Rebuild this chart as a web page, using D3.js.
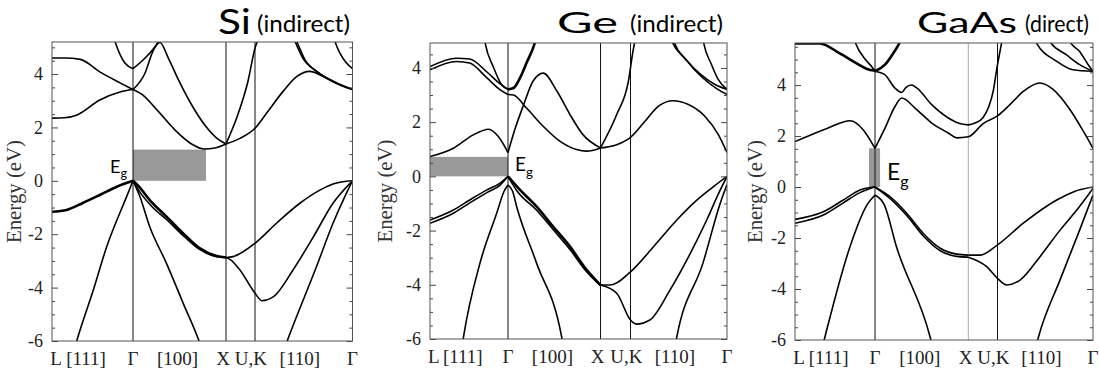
<!DOCTYPE html>
<html>
<head>
<meta charset="utf-8">
<script src="https://cdn.jsdelivr.net/npm/d3@7/dist/d3.min.js"></script>
<style>
	body { margin: 0; background: #fff; }
</style>
</head>
<body>
<svg id="chart" width="1099" height="372"></svg>
<script>
// path coordinate: L = 0, Γ = 1, X = 2, U,K = 3, Γ = 4
const kPoints = [0, 1, 2, 3, 4];
const kLabels = ['L', '[111]', 'Γ', '[100]', 'X', 'U,K', '[110]', 'Γ'];
const kLabelPos = [0.05, 0.42, 1, 1.48, 1.97, 2.86, 3.46, 4];
const eTicks = [-6, -4, -2, 0, 2, 4];
const eMin = -6;

// bands as [k, energy in eV]
const siCond = [
	[[0, 4.6], [0.16, 4.6], [0.35, 4.55], [0.59, 4.08], [0.84, 3.67], [1, 3.42]],
	[[0, 2.35], [0.15, 2.36], [0.31, 2.47], [0.59, 3.03], [0.84, 3.33], [1, 3.42]],
	[[0.74, 5.6], [0.78, 5.2], [0.9, 4.41], [1, 4.2]],
	[[1, 4.2], [1.13, 4.6], [1.24, 5.04], [1.32, 5.5]],
	[[1, 3.42], [1.13, 4.04], [1.215, 4.86], [1.29, 5.18], [1.38, 4.6], [1.48, 3.85], [1.63, 2.85], [1.78, 2.05], [1.9, 1.6], [2, 1.38]],
	[[1, 3.42], [1.1, 3.23], [1.27, 2.61], [1.45, 1.91], [1.63, 1.38], [1.77, 1.19], [1.88, 1.23], [2, 1.38]],
	[[2, 1.38], [2.41, 2.48], [2.76, 3.74], [3.0, 4.97], [3.06, 5.5]],
	[[2, 1.38], [2.5, 1.6], [3, 1.97], [3.12, 2.54], [3.29, 3.36], [3.43, 3.91], [3.56, 4.1], [3.7, 3.91], [3.84, 3.66], [4, 3.42]],
	[[3.38, 5.5], [3.41, 5.23], [3.49, 4.6], [3.63, 4.11], [3.8, 3.73], [4, 3.42]],
	[[3.39, 5.5], [3.43, 5.2], [3.51, 4.55], [3.65, 4.05], [3.82, 3.67], [4, 3.42]],
	[[3.8, 5.5], [3.82, 5.23], [3.87, 4.79], [3.93, 4.45], [4, 4.2]]
];
const siCondDeg = [];
const siVal = [
	[[0.25, -6.6], [0.305, -6], [0.51, -4.09], [0.675, -2.47], [0.92, -0.6], [1, 0]],
	[[1, 0], [1.08, -0.45], [1.2, -0.95], [1.36, -1.45], [1.54, -2.05], [1.72, -2.58], [1.9, -2.84], [2, -2.87]],
	[[1, 0], [1.07, -0.55], [1.18, -1.72], [1.36, -3.09], [1.54, -4.59], [1.71, -6], [1.75, -6.4]],
	[[2, -2.87], [2.24, -2.84], [3, -2.34], [3.22, -1.59], [3.46, -0.84], [3.67, -0.34], [3.8, -0.12], [4, 0]],
	[[2, -2.87], [2.15, -2.95], [2.48, -3.34], [3, -4.21], [3.07, -4.49], [3.19, -4.34], [3.39, -3.34], [3.6, -2.09], [3.8, -0.84], [4, 0]],
	[[3.29, -6.4], [3.33, -6], [3.63, -3.22], [3.8, -1.59], [3.92, -0.6], [4, 0]]
];
const siValDeg = [
	[[0, -1.16], [0.18, -1.09], [0.38, -0.83], [0.59, -0.53], [0.8, -0.22], [1, 0]],
	[[1, 0], [1.06, -0.2], [1.18, -0.72], [1.36, -1.34], [1.54, -1.97], [1.72, -2.53], [1.9, -2.82], [2, -2.87]]
];
const siGapK = [1, 1.785];
const siGapE = [0, 1.17];

const geCond = [
	[[0, 4.05], [0.34, 4.36], [0.51, 4.33], [0.73, 3.85], [0.9, 3.41], [1, 3.21]],
	[[0, 3.93], [0.34, 4.24], [0.51, 4.18], [0.73, 3.63], [0.9, 3.19], [1, 3.02]],
	[[1, 3.02], [1.06, 3.0], [1.2, 2.52], [1.38, 1.85], [1.56, 1.3], [1.74, 0.99], [1.85, 0.93], [2, 1.05]],
	[[0.68, 5.4], [0.705, 4.95], [0.81, 4.05], [0.92, 3.37], [1, 3.21]],
	[[0, 0.73], [0.3, 1.04], [0.555, 1.53], [0.75, 1.74], [0.876, 1.47], [1, 0.88]],
	[[1, 0.88], [1.08, 1.79], [1.17, 2.65], [1.27, 3.51], [1.38, 3.81], [1.53, 3.14], [1.67, 2.28], [1.81, 1.54], [2, 1.05]],
	[[2, 1.05], [2.54, 2.28], [2.93, 3.51], [3.026, 4.62], [3.07, 5.4]],
	[[2, 1.05], [2.54, 1.17], [3, 1.44], [3.15, 2.03], [3.29, 2.59], [3.44, 2.79], [3.6, 2.65], [3.77, 2.22], [3.91, 1.54], [4, 0.88]],
	[[3.41, 5.3], [3.43, 4.98], [3.56, 4.37], [3.73, 3.75], [3.88, 3.38], [4, 3.21]],
	[[3.43, 5.3], [3.45, 4.98], [3.58, 4.28], [3.75, 3.63], [3.9, 3.22], [4, 3.02]],
	[[3.74, 5.3], [3.755, 4.98], [3.84, 4.12], [3.91, 3.57], [4, 3.21]]
];
const geCondDeg = [
	[[1, 3.21], [1.06, 3.26], [1.13, 3.63], [1.2, 4.18], [1.29, 4.92], [1.32, 5.3]]
];
const geVal = [
	[[0, -1.61], [0.3, -1.24], [0.51, -0.87], [0.73, -0.5], [0.9, -0.25], [1, 0]],
	[[0, -1.73], [0.3, -1.36], [0.51, -0.98], [0.73, -0.6], [0.9, -0.32], [1, 0]],
	[[0.41, -6.3], [0.43, -5.92], [0.64, -3.21], [0.855, -1.36], [0.95, -0.55], [1, -0.32]],
	[[1, -0.32], [1.05, -0.55], [1.094, -1.12], [1.31, -3.21], [1.58, -5.92], [1.6, -6.3]],
	[[1, 0], [1.1, -0.55], [1.31, -1.25], [1.49, -1.97], [1.67, -2.7], [1.85, -3.52], [2, -4.03]],
	[[2, -4.01], [2.32, -4.01], [3, -3.52], [3.24, -2.59], [3.48, -1.61], [3.69, -0.87], [3.86, -0.38], [4, 0]],
	[[2, -4.01], [2.54, -4.31], [3, -5.3], [3.06, -5.45], [3.2, -5.3], [3.41, -4.19], [3.62, -2.84], [3.79, -1.61], [3.93, -0.5], [4, 0]],
	[[3.46, -6.3], [3.48, -5.92], [3.75, -3.21], [3.93, -0.99], [4, -0.3]]
];
const geValDeg = [
	[[1, 0], [1.13, -0.5], [1.31, -1.12], [1.49, -1.86], [1.67, -2.59], [1.85, -3.45], [2, -4.01]]
];
const geGapK = [0, 1];
const geGapE = [0, 0.72];

const gaasCond = [
	[[0, 1.78], [0.4, 2.3], [0.69, 2.6], [0.854, 2.24], [1, 1.52]],
	[[1, 1.52], [1.107, 2.31], [1.214, 3.16], [1.286, 3.49], [1.429, 3.1], [1.608, 2.51], [1.786, 2.12], [1.875, 1.93], [2, 1.97], [2.52, 2.5], [3, 2.79], [3.13, 3.23], [3.27, 3.75], [3.445, 4.08], [3.585, 3.82], [3.76, 3.03], [3.9, 2.18], [4, 1.52]],
	[[1, 4.54], [1.107, 4.4], [1.214, 3.88], [1.286, 3.71], [1.33, 3.9], [1.39, 4.0], [1.45, 3.88], [1.608, 3.23], [1.786, 2.71], [1.93, 2.47], [2, 2.44], [2.25, 2.52], [2.5, 2.72], [2.7, 3.15], [2.86, 3.8], [2.97, 4.6], [3.03, 5.4], [3.06, 6]],
	[[0.72, 6], [0.75, 5.7], [0.88, 5.0], [0.96, 4.72], [1, 4.56]],
	[[3.38, 6], [3.4, 5.7], [3.62, 4.93], [3.79, 4.6], [4, 4.54]],
	[[3.53, 6], [3.55, 5.7], [3.72, 5.19], [3.86, 4.8], [4, 4.54]],
	[[3.74, 6], [3.76, 5.7], [3.86, 5.32], [3.95, 4.8], [4, 4.54]]
];
const gaasCondDeg = [
	[[0, 5.63], [0.31, 5.63], [0.56, 5.24], [0.77, 4.85], [0.9, 4.63], [1, 4.56]],
	[[1, 4.54], [1.107, 4.8], [1.196, 5.25], [1.268, 5.7], [1.3, 6]]
];
const gaasVal = [
	[[0, -1.27], [0.354, -0.97], [0.604, -0.51], [0.8125, -0.12], [0.94, -0.02], [1, 0]],
	[[0, -1.42], [0.354, -1.1], [0.604, -0.62], [0.8125, -0.22], [0.94, -0.06], [1, 0]],
	[[0.34, -6.3], [0.375, -5.87], [0.6875, -2.34], [0.9, -0.7], [1, -0.31]],
	[[1, -0.31], [1.1, -0.7], [1.23, -2.34], [1.59, -5.87], [1.62, -6.3]],
	[[1, 0], [1.16, -0.45], [1.34, -1.12], [1.518, -1.92], [1.7, -2.5], [1.875, -2.72], [2, -2.75]],
	[[1, 0], [1.16, -0.38], [1.34, -1.03], [1.518, -1.82], [1.7, -2.4], [1.875, -2.63], [2, -2.67]],
	[[2, -2.67], [2.4, -2.67], [3, -2.27], [3.27, -1.42], [3.62, -0.51], [3.8, -0.18], [4, 0]],
	[[2, -2.75], [2.63, -3.12], [3, -3.58], [3.096, -3.84], [3.236, -3.65], [3.445, -2.73], [3.655, -1.69], [3.83, -0.9], [4, -0.05]],
	[[3.4, -6.3], [3.43, -5.87], [3.654, -3.65], [3.86, -1.69], [4, -0.31]]
];
const gaasValDeg = [];
const gaasGapK = [0.925, 1.054];
const gaasGapE = [0, 1.52];

const panels = [
	{ name: 'Si', kind: '(indirect)', eTop: 5.2, bands: siCond.concat(siVal), deg: siCondDeg.concat(siValDeg), gapK: siGapK, gapE: siGapE },
	{ name: 'Ge', kind: '(indirect)', eTop: 4.92, bands: geCond.concat(geVal), deg: geCondDeg.concat(geValDeg), gapK: geGapK, gapE: geGapE },
	{ name: 'GaAs', kind: '(direct)', eTop: 5.65, bands: gaasCond.concat(gaasVal), deg: gaasCondDeg.concat(gaasValDeg), gapK: gaasGapK, gapE: gaasGapE }
];

// page layout (pixels)
const frames = [
	{ left: 52, right: 352.5, top: 42, bottom: 341, sym: [52, 133, 226, 255, 352.5], xColor: '#111',
		nameX: 218, nameW: 33, nameSize: 34, nameY: 34, kindX: 257, kindW: 93, labelX: 21,
		eg: { x: 127, y: 173, anchor: 'end', size: 18 } },
	{ left: 430, right: 727, top: 43, bottom: 339, sym: [430, 508, 600.5, 630.5, 727], xColor: '#111',
		nameX: 557, nameW: 61, nameSize: 28, nameY: 33, kindX: 630, kindW: 93, labelX: 392,
		eg: { x: 515, y: 171, anchor: 'start', size: 19 } },
	{ left: 795, right: 1093, top: 43, bottom: 340, sym: [795, 875, 968.3, 997.5, 1093], xColor: '#aaa',
		nameX: 917, nameW: 100, nameSize: 28, nameY: 33, kindX: 1025, kindW: 64, labelX: 762,
		eg: { x: 887, y: 180, anchor: 'start', size: 23 } }
];

const serif = "'Liberation Serif', 'Times New Roman', serif";
const sans = "Lato, 'Open Sans', sans-serif";
const svg = d3.select('#chart');

panels.forEach((p, i) => {
	let f = frames[i],
		x = d3.scaleLinear().domain(kPoints).range(f.sym),
		y = d3.scaleLinear().domain([eMin, p.eTop]).range([f.bottom, f.top]),
		g = svg.append('g');

	svg.append('clipPath')
		.attr('id', 'clip' + i)
		.append('rect')
		.attr('x', f.left)
		.attr('y', f.top)
		.attr('width', f.right - f.left)
		.attr('height', f.bottom - f.top);

	// band gap box
	g.append('rect')
		.attr('x', x(p.gapK[0]))
		.attr('y', y(p.gapE[1]))
		.attr('width', x(p.gapK[1]) - x(p.gapK[0]))
		.attr('height', y(p.gapE[0]) - y(p.gapE[1]))
		.attr('fill', '#999');

	// symmetry point lines
	g.selectAll('line.sym')
		.data(kPoints.slice(1, 4))
		.join('line')
		.attr('class', 'sym')
		.attr('x1', d => x(d))
		.attr('x2', d => x(d))
		.attr('y1', f.top)
		.attr('y2', f.bottom)
		.attr('stroke', d => d === 2 ? f.xColor : '#111')
		.attr('stroke-width', 1);

	let line = d3.line()
		.x(d => x(d[0]))
		.y(d => y(d[1]))
		.curve(d3.curveMonotoneX);

	let bands = g.append('g').attr('clip-path', `url(#clip${i})`);
	bands.selectAll('path.band')
		.data(p.bands)
		.join('path')
		.attr('class', 'band')
		.attr('fill', 'none')
		.attr('stroke', '#000')
		.attr('stroke-width', 1.6)
		.attr('stroke-linejoin', 'round')
		.attr('d', line);
	bands.selectAll('path.deg')
		.data(p.deg)
		.join('path')
		.attr('class', 'deg')
		.attr('fill', 'none')
		.attr('stroke', '#000')
		.attr('stroke-width', 2.6)
		.attr('d', line);

	// ticks, inside on both sides
	let halves = d3.range(eMin, p.eTop, 0.5).filter(d => d % 2 !== 0);
	g.append('g')
		.attr('transform', `translate(${f.left},0)`)
		.call(d3.axisLeft(y).tickValues(halves).tickSize(-3).tickFormat(''))
		.call(a => a.select('.domain').remove());
	g.append('g')
		.attr('transform', `translate(${f.right},0)`)
		.call(d3.axisRight(y).tickValues(halves).tickSize(-3).tickFormat(''))
		.call(a => a.select('.domain').remove());
	g.append('g')
		.attr('transform', `translate(${f.right},0)`)
		.call(d3.axisRight(y).tickValues(eTicks).tickSize(-6).tickFormat(''))
		.call(a => a.select('.domain').remove());
	let yAxis = g.append('g')
		.attr('transform', `translate(${f.left},0)`)
		.call(d3.axisLeft(y).tickValues(eTicks).tickSize(-6).tickPadding(9).tickFormat(d => String(d)))
		.call(a => a.select('.domain').remove());
	yAxis.selectAll('text')
		.attr('font-family', serif)
		.attr('font-size', 18)
		.attr('fill', '#222');
	g.selectAll('.tick line').attr('stroke', '#444');

	g.append('rect')
		.attr('x', f.left)
		.attr('y', f.top)
		.attr('width', f.right - f.left)
		.attr('height', f.bottom - f.top)
		.attr('fill', 'none')
		.attr('stroke', '#555')
		.attr('stroke-width', 1);

	// k-path labels
	g.selectAll('text.kl')
		.data(kLabels)
		.join('text')
		.attr('class', 'kl')
		.attr('x', (d, j) => x(kLabelPos[j]))
		.attr('y', f.bottom + 24)
		.attr('text-anchor', 'middle')
		.attr('font-family', serif)
		.attr('font-size', 19)
		.attr('fill', '#222')
		.text(d => d);

	g.append('text')
		.attr('transform', `translate(${f.labelX}, ${(f.top + f.bottom) / 2}) rotate(-90)`)
		.attr('text-anchor', 'middle')
		.attr('font-family', serif)
		.attr('font-size', 20)
		.attr('textLength', 103)
		.attr('lengthAdjust', 'spacingAndGlyphs')
		.attr('fill', '#333')
		.text('Energy (eV)');

	// title
	g.append('text')
		.attr('x', f.nameX)
		.attr('y', f.nameY)
		.attr('font-family', sans)
		.attr('font-size', f.nameSize)
		.attr('textLength', f.nameW)
		.attr('lengthAdjust', 'spacingAndGlyphs')
		.text(p.name);
	g.append('text')
		.attr('x', f.kindX)
		.attr('y', 32)
		.attr('font-family', sans)
		.attr('font-size', 23)
		.attr('textLength', f.kindW)
		.attr('lengthAdjust', 'spacingAndGlyphs')
		.text(p.kind);

	// E_g label
	let eg = g.append('text')
		.attr('x', f.eg.x)
		.attr('y', f.eg.y)
		.attr('text-anchor', f.eg.anchor)
		.attr('font-family', sans)
		.attr('font-size', f.eg.size)
		.text('E');
	eg.append('tspan')
		.attr('dy', f.eg.size * 0.3)
		.attr('font-size', f.eg.size * 0.7)
		.text('g');
});
</script>
</body>
</html>
